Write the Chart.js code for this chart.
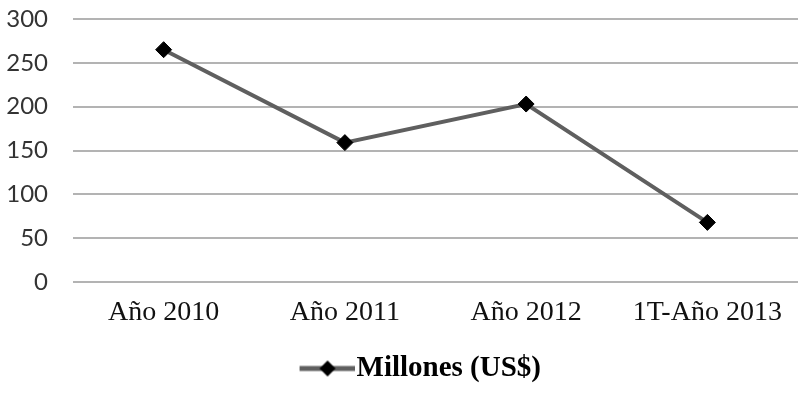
<!DOCTYPE html>
<html>
<head>
<meta charset="utf-8">
<script src="https://cdn.jsdelivr.net/npm/chart.js@4.4.0/dist/chart.umd.min.js"></script>
<style>
  html, body { margin: 0; padding: 0; background: #fff; }
  #wrap { width: 801px; height: 393px; }
</style>
</head>
<body>
<div id="wrap"><canvas id="myChart"></canvas></div>
<script>
// data
var years = ['Año 2010', 'Año 2011', 'Año 2012', '1T-Año 2013'];
var millones = [265, 159, 203, 68];
var seriesName = 'Millones (US$)';
var yMin = 0, yMax = 300, yStep = 50;

var lineGray = '#5f5f5f';

// legend icon: line with a diamond, like the excel legend
var makeIcon = function () {
  var c = document.createElement('canvas');
  c.width = 110;
  c.height = 20;
  var g = c.getContext('2d');
  g.strokeStyle = lineGray;
  g.lineWidth = 5;
  g.beginPath();
  g.moveTo(55, 10);
  g.lineTo(110, 10);
  g.stroke();
  g.fillStyle = '#000';
  g.beginPath();
  g.moveTo(83 - 8, 10);
  g.lineTo(83, 2);
  g.lineTo(83 + 8, 10);
  g.lineTo(83, 18);
  g.closePath();
  g.fill();
  return c;
};
var legendIcon = makeIcon();

var ctx = document.getElementById('myChart');
var myChart = new Chart(ctx, {
  type: 'line',
  data: {
    labels: years,
    datasets: [{
      label: seriesName,
      data: millones,
      borderColor: lineGray,
      borderWidth: 4,
      pointStyle: 'rectRot',
      pointRadius: 8,
      pointBackgroundColor: '#000',
      pointBorderColor: '#000',
      pointBorderWidth: 1,
      tension: 0
    }]
  },
  options: {
    responsive: true,
    maintainAspectRatio: false,
    animation: false,
    layout: { autoPadding: false, padding: { top: 19, right: 3, left: 0, bottom: 0 } },
    plugins: {
      tooltip: { enabled: false },
      legend: {
        position: 'bottom',
        labels: {
          usePointStyle: true,
          pointStyleWidth: 85,
          padding: 2,
          color: '#000',
          font: { family: 'Liberation Serif', size: 29, weight: 'bold' },
          generateLabels: function (chart) {
            var items = Chart.defaults.plugins.legend.labels.generateLabels(chart);
            items.forEach(function (it) { it.pointStyle = legendIcon; });
            return items;
          }
        }
      }
    },
    scales: {
      x: {
        offset: true,
        grid: { display: false, drawTicks: false },
        border: { display: false },
        ticks: {
          padding: 14,
          color: '#111',
          font: { family: 'Liberation Serif', size: 28 }
        },
        afterFit: function (s) { s.height = 70; }
      },
      y: {
        min: yMin,
        max: yMax,
        // invisible tick marks keep the gap between labels and plot
        grid: { color: '#b3b3b3', lineWidth: 2, drawTicks: true, tickLength: 21, tickColor: 'rgba(0,0,0,0)' },
        border: { display: false },
        ticks: {
          stepSize: yStep,
          padding: 4,
          color: '#333',
          font: { family: 'Lato', size: 24 }
        },
        afterFit: function (s) { s.width = 73; }
      }
    }
  }
});
</script>
</body>
</html>
